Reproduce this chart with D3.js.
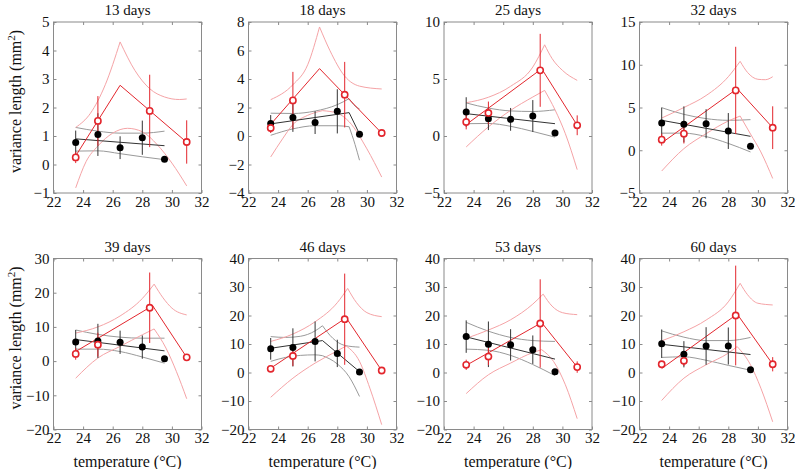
<!DOCTYPE html>
<html><head><meta charset="utf-8">
<script src="https://cdn.jsdelivr.net/npm/d3@7"></script>
<style>body{margin:0;background:#fff}svg text{font-family:"Liberation Serif","Times New Roman",serif;fill:#111}</style>
</head><body><svg id="c" width="795" height="469"></svg>
<script>
const panelTitles = ["13 days","18 days","25 days","32 days","39 days","46 days","53 days","60 days"];
const xTicks = [22,24,26,28,30,32];
const yDomains = [[-1,5],[-4,8],[-5,10],[-5,15],[-20,30],[-20,40],[-20,40],[-20,40]];
const yTicks = [[-1,0,1,2,3,4,5],[-4,-2,0,2,4,6,8],[-5,0,5,10],[-5,0,5,10,15],[-20,-10,0,10,20,30],[-20,-10,0,10,20,30,40],[-20,-10,0,10,20,30,40],[-20,-10,0,10,20,30,40]];
const blackTemps = [23.5,25,26.5,28,29.5];
const redTemps = [23.5,25,28.5,31];
const blackMean = [
 [0.77,1.05,0.59,0.94,0.18],
 [0.87,1.29,0.94,1.73,0.12],
 [2.1,1.52,1.46,1.75,0.26],
 [3.19,3.03,3.1,2.25,0.46],
 [5.6,5.9,5.5,4.1,0.7],
 [8.3,8.8,10.9,6.7,0.2],
 [12.6,9.9,9.7,8.0,0.3],
 [10.1,6.4,9.3,9.3,1.0]];
const blackErr = [
 [0.42,0.75,0.4,0.6,0],
 [0.6,1.0,0.8,1.55,0],
 [1.3,1.0,1.0,1.4,0],
 [1.8,2.1,1.7,2.1,0],
 [3.5,5,3.4,3.4,0],
 [3.8,6.7,7,4.8,0],
 [5.7,8,5.5,5,0],
 [5,4.6,6.6,6.5,0]];
const redMean = [
 [0.25,1.53,1.88,0.79],
 [0.56,2.5,2.9,0.21],
 [1.23,2.02,5.76,0.94],
 [1.24,1.94,7.0,2.64],
 [2.1,4.8,15.6,1.1],
 [1.3,5.8,18.7,0.7],
 [2.7,5.6,17.2,1.9],
 [2.9,4.1,20.0,2.9]];
const redErr = [
 [0.2,0.87,1.27,0.76],
 [0.35,2.0,2.3,0],
 [0.65,1.0,3.2,0.87],
 [0.7,1.15,5.1,2.5],
 [1.7,3.5,10.3,0.5],
 [0.8,3.5,16,0.5],
 [1.8,3,15.5,2],
 [1,1.8,17.5,2.5]];
const redFit = [
 [[23.5,0.3],[26.5,2.78],[31,0.78]],
 [[23.5,0.82],[26.8,4.73],[31,0.2]],
 [[23.5,1.0],[28.6,5.9],[31,0.94]],
 [[23.5,0.85],[28.6,7.2],[31,2.64]],
 [[23.5,2.8],[28.7,16.2],[31,1.1]],
 [[23.5,1.5],[28.6,19.2],[31,0.7]],
 [[23.5,2.5],[28.6,17.5],[31,1.9]],
 [[23.5,1.4],[28.6,20.5],[31,2.9]]];
const blackFit = [
 [[23.5,0.9],[29.5,0.66]],
 [[23.5,0.85],[28.8,1.64],[29.5,0.14]],
 [[23.5,1.96],[29.5,1.08]],
 [[23.5,3.5],[29.5,1.63]],
 [[23.5,6.3],[29.5,3.0]],
 [[23.5,8.5],[27.0,11.2],[29.5,0.3]],
 [[23.5,12.5],[29.5,4.7]],
 [[23.5,9.9],[29.5,6.3]]];
const blackUpper = [
 [[[23.5,1.3],[25,1.17],[26.5,1.1],[28,1.1],[29.5,1.17]]],
 [[[23.5,1.6],[25,1.58],[26.5,1.75],[28,2.2],[28.8,2.62]],[[28.8,2.62],[29.2,2.1],[29.5,1.9]]],
 [[[23.5,2.9],[25,2.45],[26.5,2.2],[28,2.15],[29.5,2.3]]],
 [[[23.5,4.98],[25,4.2],[26.5,3.7],[28,3.5],[29.5,3.58]]],
 [[[23.5,9.1],[25,7.8],[26.5,7.0],[28,6.7],[29.5,6.7]]],
 [[[23.5,12.6],[24.5,12.3],[25.5,12.7],[26.5,14.6],[27,16.4]],[[27,16.4],[27.7,12],[28.5,9.5],[29.5,8.9]]],
 [[[23.5,17.6],[25,14.5],[26.5,12.3],[28,11.2],[29.5,10.9]]],
 [[[23.5,14.6],[25,12.4],[26.5,11.2],[28,11.2],[29.5,12.3]]]];
const blackLower = [
 [[[23.5,0.47],[25,0.48],[26.5,0.38],[28,0.27],[29.5,0.17]]],
 [[[23.5,0.05],[25,0.5],[26.5,0.72],[28,0.72],[28.8,0.65]],[[28.8,0.65],[29.2,-0.6],[29.5,-1.7]]],
 [[[23.5,1.08],[25,1.1],[26.5,0.85],[28,0.4],[29.5,-0.1]]],
 [[[23.5,2.0],[25,2.0],[26.5,1.6],[28,0.8],[29.5,-0.2]]],
 [[[23.5,3.5],[25,3.5],[26.5,2.8],[28,1.2],[29.5,-0.6]]],
 [[[23.5,3.9],[24.5,5.3],[25.5,6.0],[26.5,6.2],[27,5.9]],[[27,5.9],[28,3.0],[28.8,-1.5],[29.5,-8.4]]],
 [[[23.5,8.2],[25,7.8],[26.5,6.0],[28,2.8],[29.5,-1.1]]],
 [[[23.5,5.3],[25,5.5],[26.5,4.3],[28,2.5],[29.5,0.8]]]];
const redUpper = [
 [[[23.5,1.3],[24.5,1.8],[25.5,2.8],[26.5,4.3]],[[26.5,4.3],[27.5,3.3],[28.5,2.66],[29.5,2.37],[30.5,2.28],[31,2.3]]],
 [[[23.5,2.55],[25,3.6],[26,5.0],[26.8,7.65]],[[26.8,7.65],[27.5,6.0],[28.5,4.2],[29.5,3.5],[31,3.3]]],
 [[[23.5,2.92],[25,3.4],[26.5,4.36],[28,6.05],[28.8,8.0]],[[28.8,8.0],[29.3,6.8],[30,5.76],[31,4.88]]],
 [[[23.5,3.77],[25,5.0],[26.5,6.4],[28,8.6],[28.8,10.4]],[[28.8,10.4],[29.3,9.1],[30,8.3],[30.5,8.25],[31,8.6]]],
 [[[23.5,8.2],[25,10.0],[26.5,13.2],[28,18.3],[28.8,22.5]],[[28.8,22.5],[29.4,18.5],[30,15.5],[31,13.5]]],
 [[[23.5,10.9],[25,13.5],[26.5,17.8],[28,24.5],[28.7,29.5]],[[28.7,29.5],[29.3,24.5],[30,21],[31,19.6]]],
 [[[23.5,12],[25,14.9],[26.5,18.5],[28,24],[28.7,27.5]],[[28.7,27.5],[29.3,23.3],[30,21],[31,20.3]]],
 [[[23.5,11.1],[25,14.3],[26.5,18.4],[28,24.8],[28.8,31.3]],[[28.8,31.3],[29.3,27.3],[30,24.3],[31,23.7]]]];
const redLower = [
 [[[23.5,-0.82],[24.2,0.1],[25,0.65],[26,1.1],[27,1.27],[28,1.15],[29,0.7],[30,0.05],[31,-0.75]]],
 [[[23.5,-1.47],[24.3,-0.2],[25,0.8],[26,1.45],[27,1.78]],[[27,1.78],[28,1.6],[28.8,1.0],[30,-0.9],[31,-2.88]]],
 [[[23.5,-0.96],[25,0.8],[26.5,2.25],[28,3.42],[28.8,4.0]],[[28.8,4.0],[29.5,2.3],[30.2,0.2],[31,-2.95]]],
 [[[23.5,-2.43],[25,0.19],[26.5,1.94],[28,3.42],[28.8,4.0]],[[28.8,4.0],[29.5,1.9],[30.2,-0.2],[31,-3.3]]],
 [[[23.5,-5],[25,0.9],[26.5,4.3],[28,7.7],[28.8,9.4]],[[28.8,9.4],[29.6,3.8],[30.3,-3],[31,-11]]],
 [[[23.5,-8.7],[25,-2],[26.5,3.3],[28,7.6],[28.6,9.3]],[[28.6,9.3],[29.5,3.9],[30.2,-5.5],[31,-18.3]]],
 [[[23.5,-7.4],[25,-0.8],[26.5,3.3],[28,7.0],[28.6,8.0]],[[28.6,8.0],[29.4,3.9],[30.2,-4.3],[31,-16.2]]],
 [[[23.5,-9.8],[25,-2],[26.5,2.7],[28,6.8],[28.6,9.1]],[[28.6,9.1],[29.5,2.7],[30.2,-5.5],[31,-17.3]]]];

const svg = d3.select("#c");
const lefts = [53.5,248.5,444,639.5];
const tops = [22,258.5];
const W = 148, H = 171;
const RED = "#e3262d", RED_LIGHT = "#f5a3a6", GRAY = "#9a9a9a", AX = "#8a8a8a";

panelTitles.forEach((title,i)=>{
  const col = i%4, row = Math.floor(i/4);
  const g = svg.append("g").attr("transform",`translate(${lefts[col]},${tops[row]})`);
  const x = d3.scaleLinear().domain([22,32]).range([0,W]);
  const y = d3.scaleLinear().domain(yDomains[i]).range([H,0]);
  const clipId = "clip"+i;
  g.append("clipPath").attr("id",clipId).append("rect").attr("width",W).attr("height",H);
  const plot = g.append("g").attr("clip-path",`url(#${clipId})`);
  const line = d3.line().x(d=>x(d[0])).y(d=>y(d[1])).curve(d3.curveMonotoneX);
  const lin = d3.line().x(d=>x(d[0])).y(d=>y(d[1]));
  [...blackUpper[i],...blackLower[i]].forEach(seg=>{
    plot.append("path").attr("d",line(seg)).attr("fill","none").attr("stroke",GRAY).attr("stroke-width",1);
  });
  [...redUpper[i],...redLower[i]].forEach(seg=>{
    plot.append("path").attr("d",line(seg)).attr("fill","none").attr("stroke",RED_LIGHT).attr("stroke-width",1);
  });
  plot.append("path").attr("d",lin(blackFit[i])).attr("fill","none").attr("stroke","#333").attr("stroke-width",1);
  plot.append("path").attr("d",lin(redFit[i])).attr("fill","none").attr("stroke",RED).attr("stroke-width",1);
  blackTemps.forEach((t,j)=>{
    const m=blackMean[i][j], e=blackErr[i][j];
    if(e>0) plot.append("line").attr("x1",x(t)).attr("x2",x(t)).attr("y1",y(m-e)).attr("y2",y(m+e)).attr("stroke","#333").attr("stroke-width",1);
  });
  redTemps.forEach((t,j)=>{
    const m=redMean[i][j], e=redErr[i][j];
    if(e>0) plot.append("line").attr("x1",x(t)).attr("x2",x(t)).attr("y1",y(m-e)).attr("y2",y(m+e)).attr("stroke",RED).attr("stroke-width",1);
  });
  plot.selectAll("circle.b").data(blackTemps).enter().append("circle")
    .attr("cx",t=>x(t)).attr("cy",(t,j)=>y(blackMean[i][j])).attr("r",3.5).attr("fill","#000");
  plot.selectAll("circle.r").data(redTemps).enter().append("circle")
    .attr("cx",t=>x(t)).attr("cy",(t,j)=>y(redMean[i][j])).attr("r",3.1).attr("fill","#fff").attr("stroke",RED).attr("stroke-width",1.6);
  g.append("rect").attr("width",W).attr("height",H).attr("fill","none").attr("stroke",AX).attr("stroke-width",1);
  const ax = g.append("g").attr("transform",`translate(0,${H})`).call(d3.axisBottom(x).tickValues(xTicks).tickSizeInner(-3).tickSizeOuter(0).tickPadding(3));
  const ay = g.append("g").call(d3.axisLeft(y).tickValues(yTicks[i]).tickSizeInner(-3).tickSizeOuter(0).tickPadding(4).tickFormat(d=>d<0?"\u2212"+Math.abs(d):d));
  const axT = g.append("g").call(d3.axisTop(x).tickValues(xTicks).tickSizeInner(-3).tickSizeOuter(0).tickFormat(""));
  const ayR = g.append("g").attr("transform",`translate(${W},0)`).call(d3.axisRight(y).tickValues(yTicks[i]).tickSizeInner(-3).tickSizeOuter(0).tickFormat(""));
  [ax,ay,axT,ayR].forEach(a=>{a.select(".domain").remove(); a.selectAll("line").attr("stroke",AX); a.selectAll("text").attr("font-size",15).attr("font-family","Liberation Serif").attr("fill","#111");});
  g.append("text").attr("x",W/2).attr("y",-7).attr("text-anchor","middle").attr("font-size",15).text(title);
  if(row===1) g.append("text").attr("x",W/2).attr("y",H+37).attr("text-anchor","middle").attr("font-size",16).text("temperature (\u00B0C)");
  if(col===0){
    const t = g.append("text").attr("transform",`translate(-33,${H/2-6}) rotate(-90)`).attr("text-anchor","middle").attr("font-size",16);
    t.append("tspan").text("variance length (mm");
    t.append("tspan").attr("dy",-6).attr("font-size",11).text("2");
    t.append("tspan").attr("dy",6).text(")");
  }
});
</script></body></html>
